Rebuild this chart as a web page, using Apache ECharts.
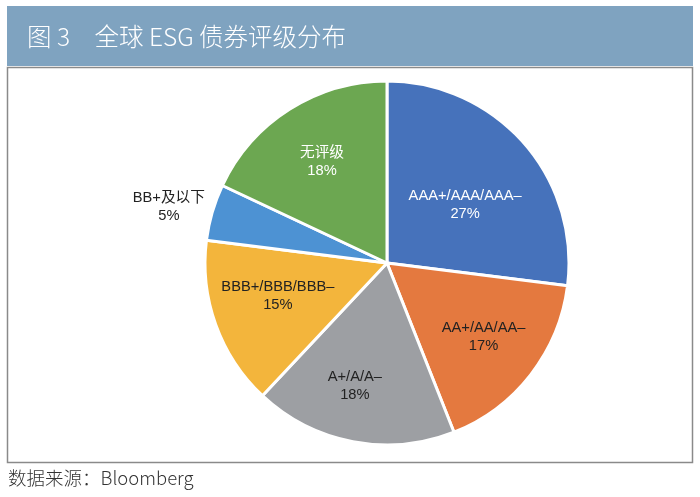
<!DOCTYPE html>
<html><head><meta charset="utf-8">
<script src="https://cdn.jsdelivr.net/npm/echarts@6/dist/echarts.min.js"></script>
<style>html,body{margin:0;padding:0;background:#fff}#c{width:700px;height:497px}</style>
</head><body><div id="c"></div>
<script>
var categories = ['AAA+/AAA/AAA–', 'AA+/AA/AA–', 'A+/A/A–', 'BBB+/BBB/BBB–', 'BB+及以下', '无评级'];
var values = [27, 17, 18, 15, 5, 18];
var colors = ['#4672bb', '#e4793f', '#9d9fa3', '#f3b53c', '#4d92d3', '#6ca751'];
var labelColors = ['#fff', '#222', '#222', '#222', '#222', '#fff'];
var labelRadialScale = [1.08, 1.3, 1.37, 1.245, 2.45, 1.33];
var labelNudge = [[2, 9], [0, -1], [-8, -4], [1, -7], [3, 8], [2, 5]];

var CX = 387, CY = 263, R = 182;
var fontFamily = '"Liberation Sans", Arial, "Noto Sans CJK SC", sans-serif';

var chart = echarts.init(document.getElementById('c'), null, {renderer: 'canvas'});
var data = categories.map(function (c, i) {
  return {
    name: c, value: values[i],
    itemStyle: {color: colors[i]},
    label: {color: labelColors[i]}
  };
});
chart.setOption({
  animation: false,
  graphic: [
    {type: 'rect', shape: {x: 7, y: 6, width: 686, height: 60}, style: {fill: '#7fa3c0'}, z: 0},
    {type: 'rect', shape: {x: 7.5, y: 67.5, width: 685, height: 395}, style: {fill: '#fff', stroke: '#8a8a8a', lineWidth: 1.5}, z: 0},
    {type: 'text', x: 27, y: 37, style: {text: '图 3　全球 ESG 债券评级分布', fill: '#fff', font: '300 24.5px "Noto Sans CJK SC", "Liberation Sans", sans-serif', verticalAlign: 'middle'}, z: 2},
    {type: 'text', x: 8, y: 478, style: {text: '数据来源：Bloomberg', fill: '#333', font: '300 18.5px "Noto Sans CJK SC", "Liberation Sans", sans-serif', verticalAlign: 'middle'}, z: 2}
  ],
  series: [{
    type: 'pie',
    center: [CX, CY],
    radius: [0, R],
    startAngle: 90,
    clockwise: true,
    z: 3,
    itemStyle: {borderColor: '#fff', borderWidth: 3},
    label: {
      show: true, position: 'inside',
      formatter: function (p) { return p.name + '\n' + p.value + '%'; },
      fontSize: 14.7, lineHeight: 18, fontFamily: fontFamily
    },
    labelLine: {show: false},
    labelLayout: function (p) {
      var r = p.labelRect;
      var lx = r.x + r.width / 2, ly = r.y + r.height / 2;
      var s = labelRadialScale[p.dataIndex];
      var n = labelNudge[p.dataIndex];
      return {x: CX + (lx - CX) * s + n[0], y: CY + (ly - CY) * s + n[1], align: 'center', verticalAlign: 'middle'};
    },
    emphasis: {disabled: true},
    data: data
  }]
});
</script></body></html>
